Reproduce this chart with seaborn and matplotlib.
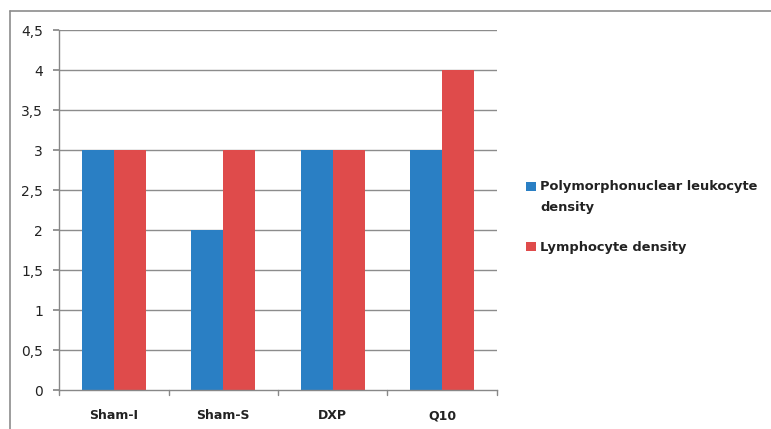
import matplotlib
matplotlib.use("Agg")
import matplotlib.pyplot as plt
from matplotlib.lines import Line2D
from matplotlib.patches import Rectangle
import numpy as np
import pandas as pd
import seaborn as sns

groups = ["Sham-I", "Sham-S", "DXP", "Q10"]
pmn_density = [3, 2, 3, 3]
lymph_density = [3, 3, 3, 4]
series_names = ["Polymorphonuclear leukocyte\ndensity", "Lymphocyte density"]
y_ticks = [0, 0.5, 1, 1.5, 2, 2.5, 3, 3.5, 4, 4.5]

colors = ["#2A7FC4", "#DF4B4B"]

df = pd.DataFrame({
    "group": groups * 2,
    "value": pmn_density + lymph_density,
    "series": [series_names[0]] * len(groups) + [series_names[1]] * len(groups),
})

sns.set_theme(style="white")
plt.rcParams["font.family"] = ["DejaVu Sans"]

W, H = 771, 429
fig = plt.figure(figsize=(W / 100, H / 100), dpi=100)
ax = fig.add_axes([59 / W, 1 - 390 / H, (497 - 59) / W, (390 - 30) / H])

sns.barplot(data=df, x="group", y="value", hue="series", palette=colors,
            width=0.58, gap=0, saturation=1, legend=False, ax=ax)
for p in ax.patches:
    p.set_edgecolor("none")

ax.set_ylim(0, 4.5)
ax.set_xlim(-0.5, len(groups) - 0.5)
ax.set_yticks(y_ticks)
ax.set_yticklabels([f"{t:g}".replace(".", ",") for t in y_ticks], fontsize=10, color="#222222")
ax.set_xticks(range(len(groups)))
ax.set_xticklabels(groups, fontsize=9, fontweight="bold", color="#222222")
for lbl in ax.get_xticklabels():
    lbl.set_verticalalignment("baseline")
ax.tick_params(axis="x", length=0, pad=21)
ax.tick_params(axis="y", length=4.5, color="#888888", left=True, pad=7)
ax.set_xlabel("")
ax.set_ylabel("")

for t in y_ticks[1:]:
    ax.axhline(t, color="#8C8C8C", linewidth=1.0, zorder=0)

# category boundary tick marks under the axis
for b in np.arange(-0.5, len(groups), 1.0):
    ax.add_line(Line2D([b, b], [0, -0.06], color="#888888", linewidth=1.0,
                       transform=ax.transData, clip_on=False))

for side in ["top", "right"]:
    ax.spines[side].set_visible(False)
for side in ["left", "bottom"]:
    ax.spines[side].set_color("#888888")
    ax.spines[side].set_linewidth(1.0)

# legend, Excel style: swatch aligned with the first text line
legend_rows = [186, 247]
for name, c, yc in zip(series_names, colors, legend_rows):
    fig.add_artist(Rectangle((526 / W, 1 - (yc + 4.5) / H), 10 / W, 9 / H,
                             facecolor=c, edgecolor="none", transform=fig.transFigure))
    fig.text(540 / W, 1 - (yc - 6) / H, name, fontsize=9.4, fontweight="bold",
             color="#222222", va="top", ha="left", linespacing=1.75)

# outer chart border (top and left visible)
fig.add_artist(Line2D([10 / W, 1.0], [1 - 11 / H, 1 - 11 / H],
                      color="#8C8C8C", linewidth=1.2, transform=fig.transFigure))
fig.add_artist(Line2D([10 / W, 10 / W], [0, 1 - 11 / H],
                      color="#8C8C8C", linewidth=1.2, transform=fig.transFigure))

fig.savefig("out.png", dpi=100, facecolor="white")
